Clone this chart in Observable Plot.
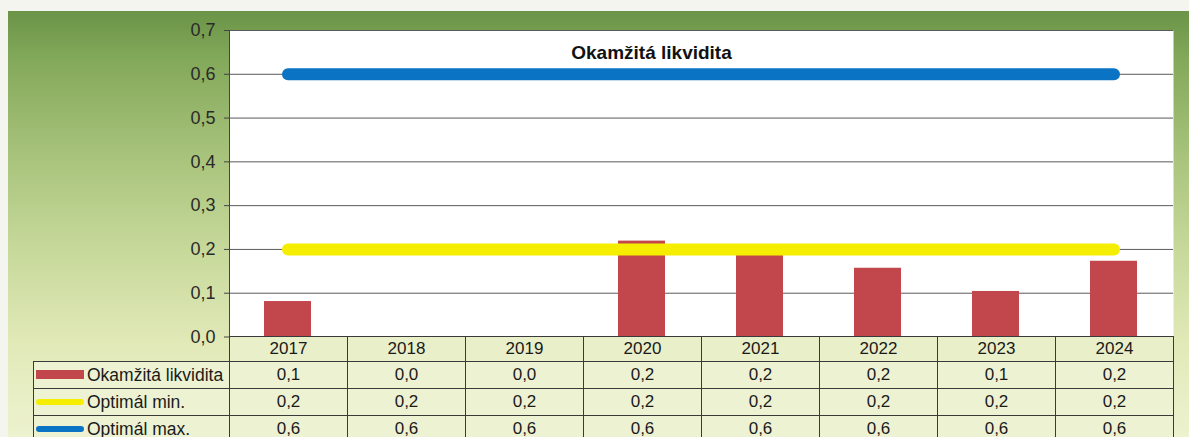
<!DOCTYPE html>
<html>
<head>
<meta charset="utf-8">
<script src="https://cdn.jsdelivr.net/npm/d3@7"></script>
<script src="https://cdn.jsdelivr.net/npm/@observablehq/plot@0.6"></script>
<style>
  html, body { margin: 0; padding: 0; background: #f5f5ef; }
  #wrap { position: relative; width: 1189px; height: 437px; overflow: hidden; background: #f5f5ef; }
  #bg { position: absolute; left: 8px; top: 11px; width: 1181px; height: 426px;
        background: linear-gradient(to bottom, #6b9448 0px, #84a95a 50px, #a6c27a 140px, #c7d99b 240px, #e1e9b7 330px, #edf2cf 426px); }
  #chart { position: absolute; left: 0; top: 0; }
  #tbl { position: absolute; left: 33px; top: 336px; width: 1141px; border-collapse: collapse; table-layout: fixed;
         font-family: "Liberation Sans", Arial, sans-serif; font-size: 17px; color: #1a1a1a; }
  #tbl td { border: 1px solid #3a3a3a; text-align: center; padding: 0; background: #edf2d2; height: 26px; white-space: nowrap; }
  #tbl tr.hdr td { height: 24px; background: #e9efc8; }
  #tbl tr.hdr td.blank { border: none; border-bottom: 1px solid #3a3a3a; background: transparent; }
  #tbl td.leg { text-align: left; font-size: 17.5px; padding-left: 2px; }
  .sw { display: inline-block; width: 48px; vertical-align: middle; margin-right: 3px; position: relative; top: -1px; }
</style>
</head>
<body>
<div id="wrap">
  <div id="bg"></div>
  <div id="chart"></div>
  <table id="tbl"></table>
</div>
<script>
// ---- data ----
const years = ["2017", "2018", "2019", "2020", "2021", "2022", "2023", "2024"];
const liquidity = [0.081, 0, 0, 0.219, 0.186, 0.157, 0.104, 0.173];
const optimalMin = [0.2, 0.2, 0.2, 0.2, 0.2, 0.2, 0.2, 0.2];
const optimalMax = [0.6, 0.6, 0.6, 0.6, 0.6, 0.6, 0.6, 0.6];
const yTicks = [0, 0.1, 0.2, 0.3, 0.4, 0.5, 0.6, 0.7];
const seriesNames = ["Okamžitá likvidita", "Optimál min.", "Optimál max."];
const title = "Okamžitá likvidita";

const colors = { bar: "#c1474c", min: "#f6ee00", max: "#0b73c3" };
const fmt = v => d3.format(".1f")(v).replace(".", ",");

const data = years.map((year, i) => ({ year, value: liquidity[i], min: optimalMin[i], max: optimalMax[i] }));

const chart = Plot.plot({
  width: 1189,
  height: 437,
  marginLeft: 229,
  marginRight: 16,
  marginTop: 30,
  marginBottom: 100.5,
  style: { background: "transparent", fontFamily: "Liberation Sans, Arial, sans-serif", fontSize: "18px", color: "#2a2a2a", overflow: "visible" },
  x: { type: "band", domain: years, paddingInner: 0.6, paddingOuter: 0.3, axis: null },
  y: { domain: [0, 0.7] },
  marks: [
    Plot.frame({ fill: "white", stroke: null }),
    Plot.gridY(yTicks, { stroke: "#5a5a5a", strokeOpacity: 1, strokeWidth: 1 }),
    Plot.axisY(yTicks, { tickSize: 5, tickPadding: 9, tickFormat: fmt, stroke: "#444", fontSize: 18 }),
    Plot.frame({ anchor: "left", stroke: "#444" }),
    Plot.barY(data, { x: "year", y: "value", fill: colors.bar }),
    Plot.lineY(data, { x: "year", y: "min", stroke: colors.min, strokeWidth: 12, strokeLinecap: "round" }),
    Plot.lineY(data, { x: "year", y: "max", stroke: colors.max, strokeWidth: 12, strokeLinecap: "round" }),
    Plot.text([title], { frameAnchor: "top", lineAnchor: "middle", dx: -50, dy: 22, fontWeight: "bold", fontSize: 19, fill: "#111" })
  ]
});
document.getElementById("chart").appendChild(chart);

// ---- data table ----
const tbl = document.getElementById("tbl");
const colgroup = document.createElement("colgroup");
[196, ...years.map(() => 118)].forEach(w => { const c = document.createElement("col"); c.style.width = w + "px"; colgroup.appendChild(c); });
tbl.appendChild(colgroup);

const hdr = document.createElement("tr");
hdr.className = "hdr";
hdr.innerHTML = `<td class="blank"></td>` + years.map(y => `<td>${y}</td>`).join("");
tbl.appendChild(hdr);

const swatches = [
  `<span class="sw" style="height:9px;background:${colors.bar};"></span>`,
  `<span class="sw" style="height:6px;border-radius:3px;background:${colors.min};"></span>`,
  `<span class="sw" style="height:6px;border-radius:3px;background:${colors.max};"></span>`
];
[liquidity, optimalMin, optimalMax].forEach((vals, k) => {
  const tr = document.createElement("tr");
  tr.innerHTML = `<td class="leg">${swatches[k]}${seriesNames[k]}</td>` + vals.map(v => `<td>${fmt(v)}</td>`).join("");
  tbl.appendChild(tr);
});
</script>
</body>
</html>
